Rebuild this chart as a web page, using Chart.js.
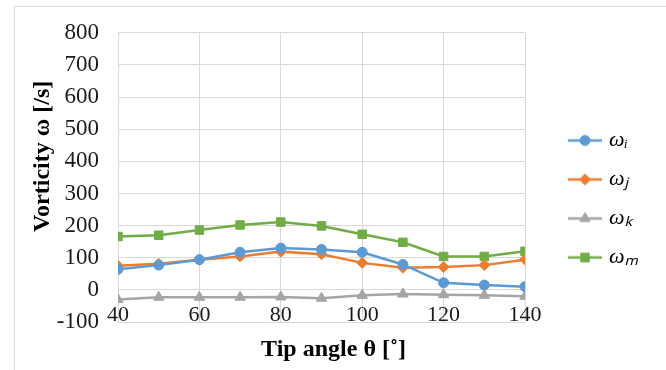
<!DOCTYPE html>
<html>
<head>
<meta charset="utf-8">
<script src="https://cdn.jsdelivr.net/npm/chart.js@4.4.1/dist/chart.umd.min.js"></script>
<style>
  html, body { margin: 0; padding: 0; background: #fff; overflow: hidden; }
  #wrap { position: relative; width: 666px; height: 370px; }
  #frame { position: absolute; left: 14px; top: 6px; width: 700px; height: 400px; border: 1px solid #d9d9d9; }
  #chart { position: absolute; left: 0; top: 0; }
</style>
</head>
<body>
<div id="wrap">
  <div id="frame"></div>
  <canvas id="chart" width="666" height="370"></canvas>
</div>
<script>
// tip angle (deg) and vorticity components [/s]
const angles = [40, 50, 60, 70, 80, 90, 100, 110, 120, 130, 140];
const omegaI = [64, 77, 94, 117, 130, 126, 117, 79, 22, 15, 10];
const omegaJ = [75, 81, 94, 104, 119, 111, 84, 69, 71, 77, 94];
const omegaK = [-30, -23, -23, -23, -22, -26, -17, -13, -15, -17, -20];
const omegaM = [166, 170, 186, 202, 211, 199, 173, 148, 104, 104, 120];
const seriesNames = ['ωᵢ', 'ωⱼ', 'ωₖ', 'ωₘ'];

const SERIF = "'Liberation Serif', 'Times New Roman', serif";
const colors = ['#5b9bd5', '#ed7d31', '#a5a5a5', '#70ad47'];
const markers = ['circle', 'rectRot', 'triangle', 'rect'];
const radii = [5, 5.5, 6, 6];

// legend sample: short line with the marker in the middle
function makeIcon(color, style, radius) {
  const c = document.createElement('canvas');
  c.width = 64;
  c.height = 16;
  const g = c.getContext('2d');
  g.strokeStyle = color;
  g.fillStyle = color;
  g.lineWidth = 2.5;
  g.beginPath();
  g.moveTo(30, 8);
  g.lineTo(64, 8);
  g.stroke();
  g.lineWidth = 1;
  Chart.helpers.drawPoint(g, { pointStyle: style, radius: radius, rotation: 0, borderWidth: 1 }, 47, 8);
  return c;
}

const allSeries = [omegaI, omegaJ, omegaK, omegaM];
const datasets = allSeries.map((vals, i) => ({
  label: seriesNames[i],
  data: vals.map((v, k) => ({ x: angles[k], y: v })),
  borderColor: colors[i],
  backgroundColor: colors[i],
  borderWidth: 2.5,
  pointStyle: markers[i],
  pointRadius: radii[i],
  pointBorderWidth: 1,
  tension: 0,
}));

const icons = colors.map((c, i) => makeIcon(c, markers[i], radii[i]));

new Chart(document.getElementById('chart'), {
  type: 'line',
  data: { datasets: datasets },
  options: {
    responsive: false,
    animation: false,
    devicePixelRatio: 1,
    layout: { padding: { top: 28, right: 0, bottom: 0, left: 0 } },
    plugins: {
      tooltip: { enabled: false },
      legend: {
        position: 'right',
        align: 'center',
        maxWidth: 141,
        labels: {
          usePointStyle: true,
          pointStyleWidth: 56,
          padding: 17,
          color: '#333',
          font: { family: SERIF, size: 22, style: 'italic' },
          // trailing em spaces keep the legend box wide enough to hit maxWidth
          generateLabels: (chart) => chart.data.datasets.map((ds, i) => ({
            text: ds.label + '\u2003\u2003\u2003',
            fillStyle: ds.backgroundColor,
            strokeStyle: ds.borderColor,
            lineWidth: 0,
            pointStyle: icons[i],
            datasetIndex: i,
            hidden: false,
          })),
        },
      },
    },
    scales: {
      x: {
        type: 'linear',
        min: 40,
        max: 140,
        ticks: { stepSize: 20, mirror: true, padding: -6, color: '#1a1a1a', font: { family: SERIF, size: 22 } },
        grid: { color: '#d9d9d9', drawTicks: false },
        border: { display: false },
        title: {
          display: true,
          text: '    Tip angle θ [˚]',
          color: '#000',
          font: { family: SERIF, size: 24, weight: 'bold' },
          padding: { top: 0, bottom: 6 },
        },
        afterFit: (s) => { s.height = 48; },
      },
      y: {
        min: -100,
        max: 800,
        ticks: { stepSize: 100, padding: 19, color: '#1a1a1a', font: { family: SERIF, size: 23 } },
        grid: { color: '#d9d9d9', drawTicks: false },
        border: { display: false },
        title: {
          display: true,
          text: '       Vorticity ω [/s]',
          color: '#000',
          font: { family: SERIF, size: 24, weight: 'bold' },
          padding: { top: 28, bottom: 0 },
        },
        afterFit: (s) => { s.width = 118; },
      },
    },
  },
});
</script>
</body>
</html>
